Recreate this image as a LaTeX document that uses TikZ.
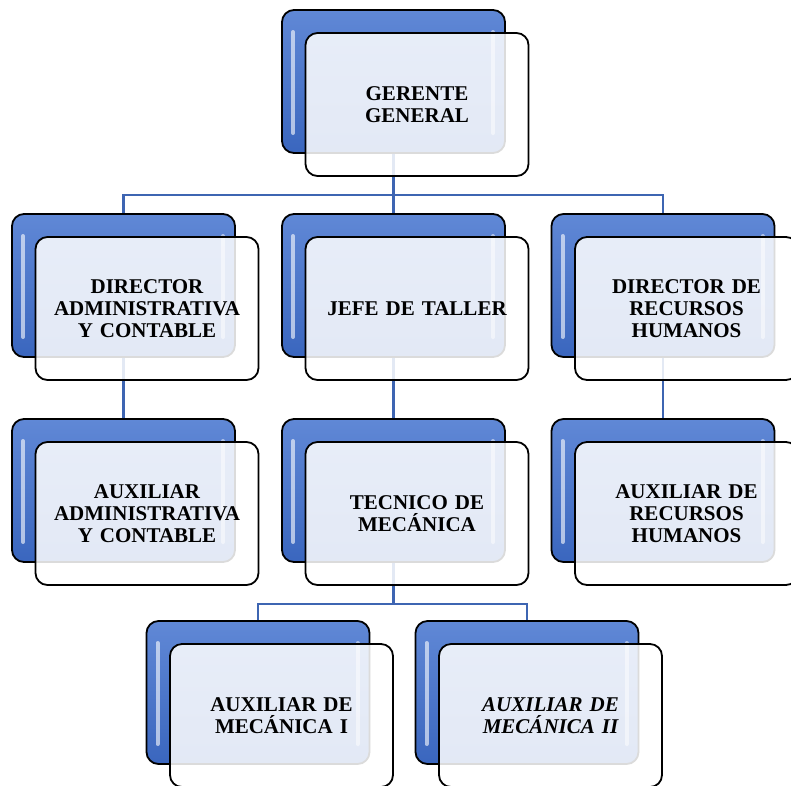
\documentclass[tikz,border=0pt]{standalone}
\usepackage{fontspec}
\setmainfont{Liberation Serif}
\usepackage{xcolor}
\usetikzlibrary{positioning}
\definecolor{boxtop}{RGB}{96,136,214}
\definecolor{boxbot}{RGB}{58,102,190}
\definecolor{linkblue}{RGB}{62,101,178}
\tikzset{backbox/.style={rectangle, rounded corners=12pt, draw=black, line width=1.8pt,
    minimum width=223pt, minimum height=143pt, top color=boxtop, bottom color=boxbot,
    path picture={
      \draw[white, opacity=0.6, line width=4pt, line cap=round]
        ([xshift=11pt,yshift=-22pt]path picture bounding box.north west) --
        ([xshift=11pt,yshift=20pt]path picture bounding box.south west);
      \draw[white, opacity=0.5, line width=4pt, line cap=round]
        ([xshift=-12pt,yshift=-22pt]path picture bounding box.north east) --
        ([xshift=-12pt,yshift=20pt]path picture bounding box.south east);}}}
\tikzset{frontbox/.style={rectangle, rounded corners=12pt, draw=black, line width=1.8pt,
    minimum width=223pt, minimum height=143pt, fill=white, fill opacity=0.86, text opacity=1,
    align=center, text width=212pt, font=\fontsize{21}{22}\selectfont\bfseries}}
\tikzset{link/.style={linkblue, line width=2.5pt}}

\begin{document}
\begin{tikzpicture}[x=1pt,y=1pt]
    \useasboundingbox (0,0) rectangle (791,-785);

    % back boxes
    \node[backbox] at (393.5,-81.5) (gerente){};
    \node[backbox] at ([xshift=-270pt,yshift=-204pt]gerente) (director){};
    \node[backbox] at ([yshift=-204pt]gerente) (jefe){};
    \node[backbox] at ([xshift=269.5pt,yshift=-204pt]gerente) (rrhh){};
    \node[backbox] at ([yshift=-205pt]director) (auxadmin){};
    \node[backbox] at ([yshift=-205pt]jefe) (tecnico){};
    \node[backbox] at ([yshift=-205pt]rrhh) (auxrrhh){};
    \node[backbox] at ([xshift=-135.5pt,yshift=-202pt]tecnico) (auxmecA){};
    \node[backbox] at ([xshift=133.5pt,yshift=-202pt]tecnico) (auxmecB){};

    % lines
    \coordinate (bus1) at ([yshift=-41pt]gerente.south);
    \coordinate (bus2) at ([yshift=-41pt]tecnico.south);
    \draw[link] (gerente.south) -- (bus1) -| (director.north);
    \draw[link] (bus1) -| (rrhh.north);
    \draw[link] (bus1) -- (jefe.north);
    \draw[link] (director.south) -- (auxadmin.north);
    \draw[link] (jefe.south) -- (tecnico.north);
    \draw[link] (rrhh.south) -- (auxrrhh.north);
    \draw[link] (tecnico.south) -- (bus2) -| (auxmecA.north);
    \draw[link] (bus2) -| (auxmecB.north);

    % front boxes
    \node[frontbox] at ([xshift=23.5pt,yshift=-23pt]gerente) (gerenteF){GERENTE\\GENERAL};
    \node[frontbox] at ([xshift=23.5pt,yshift=-23pt]director) (directorF){DIRECTOR\\ADMINISTRATIVA\\Y CONTABLE};
    \node[frontbox] at ([xshift=23.5pt,yshift=-23pt]jefe) (jefeF){JEFE DE TALLER};
    \node[frontbox] at ([xshift=23.5pt,yshift=-23pt]rrhh) (rrhhF){DIRECTOR DE\\RECURSOS\\HUMANOS};
    \node[frontbox] at ([xshift=23.5pt,yshift=-23pt]auxadmin) (auxadminF){AUXILIAR\\ADMINISTRATIVA\\Y CONTABLE};
    \node[frontbox] at ([xshift=23.5pt,yshift=-23pt]tecnico) (tecnicoF){TECNICO DE\\MECÁNICA};
    \node[frontbox] at ([xshift=23.5pt,yshift=-23pt]auxrrhh) (auxrrhhF){AUXILIAR DE\\RECURSOS\\HUMANOS};
    \node[frontbox] at ([xshift=23.5pt,yshift=-23pt]auxmecA) (auxmecAF){AUXILIAR DE\\MECÁNICA I};
    \node[frontbox] at ([xshift=23.5pt,yshift=-23pt]auxmecB) (auxmecBF){\itshape AUXILIAR DE\\\itshape MECÁNICA II};
\end{tikzpicture}
\end{document}
